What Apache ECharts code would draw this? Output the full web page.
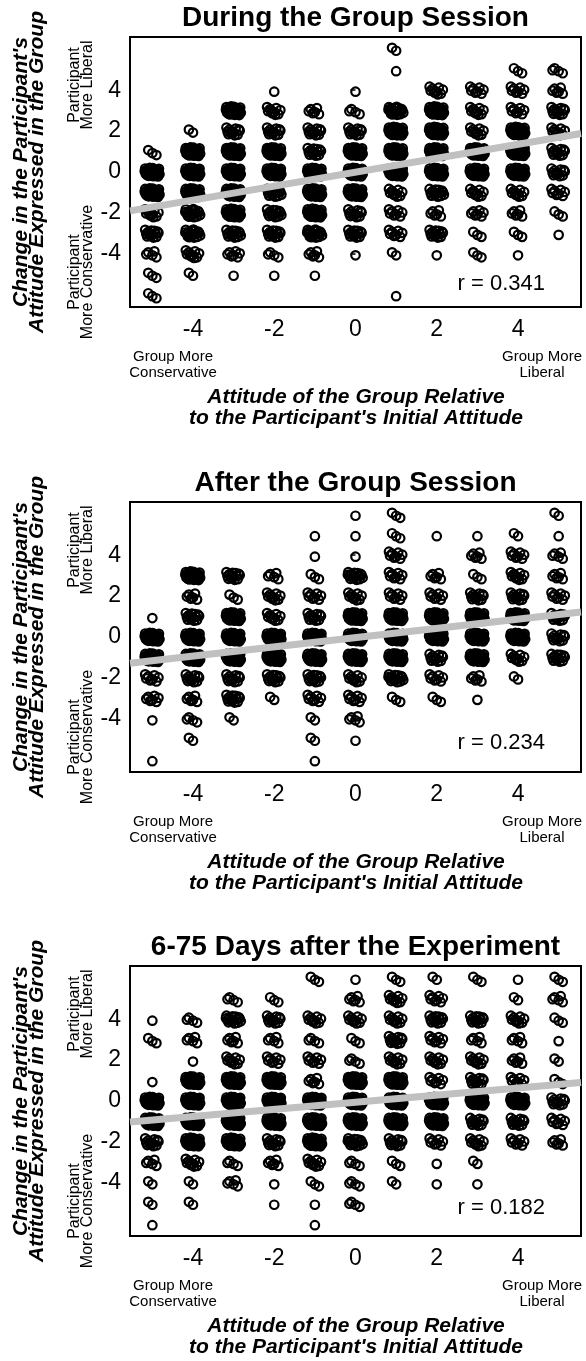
<!DOCTYPE html>
<html><head><meta charset="utf-8">
<script src="https://cdn.jsdelivr.net/npm/echarts@6/dist/echarts.min.js"></script>
<style>html,body{margin:0;padding:0;background:#fff}#c{width:586px;height:1361px}</style>
</head><body><div id="c"></div>
<script>
// ---- data ----
const xCategories = [-5,-4,-3,-2,-1,0,1,2,3,4,5];
const yLevels = [6,5,4,3,2,1,0,-1,-2,-3,-4,-5,-6];   // rows, top to bottom
const tickValues = [-4,-2,0,2,4];
const panelTitles = ['During the Group Session','After the Group Session','6-75 Days after the Experiment'];
const rLabels = ['r = 0.341','r = 0.234','r = 0.182'];

// number of participants at each (group attitude, change) cell; one row per x category, counts for y = 6 .. -6
const duringCounts = [
  [0,0,0,0,0,3,30,30,10,14,5,3,3],
  [0,0,0,0,2,30,30,30,18,18,10,2,0],
  [0,0,0,30,12,30,30,30,30,15,7,1,0],
  [0,0,1,10,12,30,30,15,15,14,4,1,0],
  [0,0,0,6,12,14,30,30,30,20,6,1,0],
  [0,0,1,4,12,30,30,30,12,14,1,0,0],
  [2,1,0,20,30,30,30,10,8,8,2,0,1],
  [0,0,10,30,30,30,30,15,6,14,1,0,0],
  [0,0,8,10,10,30,30,10,7,3,3,0,0],
  [0,3,8,8,30,30,30,10,6,3,1,0,0],
  [0,4,6,12,10,12,12,8,3,1,0,0,0]
];
const afterCounts = [
  [0,0,0,0,0,1,30,30,8,7,1,0,1],
  [0,0,0,30,6,14,30,30,12,6,4,2,0],
  [0,0,0,14,3,30,30,30,12,14,2,0,0],
  [0,0,0,5,10,10,30,30,14,2,0,0,0],
  [0,1,1,3,8,12,30,30,14,8,2,2,1],
  [1,1,1,16,10,30,30,30,10,8,5,1,0],
  [3,3,8,8,8,30,30,30,16,3,0,0,0],
  [0,1,0,6,8,30,30,12,8,3,0,0,0],
  [0,1,6,3,12,30,30,30,6,1,0,0,0],
  [0,2,8,10,12,30,30,10,2,0,0,0,0],
  [2,1,5,6,8,12,12,14,0,0,0,0,0]
];
const laterCounts = [
  [0,0,1,3,0,1,30,30,12,5,2,2,1],
  [0,0,4,5,1,30,30,30,30,10,2,2,0],
  [0,4,16,6,10,30,30,30,30,4,5,0,0],
  [0,3,12,5,8,30,30,30,12,6,1,1,0],
  [3,0,10,4,8,6,30,30,30,10,3,1,1],
  [1,6,10,3,4,30,30,30,16,4,4,4,0],
  [3,10,10,12,10,30,30,30,12,3,2,0,0],
  [2,8,14,8,10,8,30,30,8,1,1,0,0],
  [3,0,14,5,10,12,30,12,10,2,1,0,0],
  [1,2,10,5,6,8,30,12,8,0,0,0,0],
  [3,5,3,1,2,3,12,8,6,0,0,0,0]
];
// regression line end points [x, y]
const duringFit = [[-5.55,-1.9],[5.55,1.88]];
const afterFit  = [[-5.55,-1.28],[5.55,1.22]];
const laterFit  = [[-5.55,-1.03],[5.55,0.9]];

// ---- display-only jitter pattern (normalised offsets) ----
const JITTER = [[0,-0.33],[-0.5,0.33],[0.5,-0.78],[-0.75,-0.11],[0.25,0.56],[-0.25,-0.56],[0.75,0.11],[-0.88,0.78],[0.13,-0.93],[-0.38,-0.26],[0.63,0.41],[-0.63,-0.7],[0.38,-0.04],[-0.13,0.63],[0.88,-0.48],[-0.94,0.19],[0.06,0.85],[-0.44,-0.85],[0.56,-0.19],[-0.69,0.48],[0.31,-0.63],[-0.19,0.04],[0.81,0.7],[-0.81,-0.41],[0.19,0.26],[-0.31,0.93],[0.69,-0.98],[-0.56,-0.31],[0.44,0.36],[-0.06,-0.75],[0.94,-0.09],[-0.97,0.58],[0.03,-0.53],[-0.47,0.14],[0.53,0.8],[-0.72,-0.88],[0.28,-0.21],[-0.22,0.46],[0.78,-0.65],[-0.84,0.01]];
const JX = 0.2, JY = 0.22;

function buildPoints(counts){
  const pts = [];
  counts.forEach((col, ci) => {
    col.forEach((n, ri) => {
      for (let k = 0; k < n; k++) {
        const j = JITTER[k % JITTER.length];
        pts.push([xCategories[ci] + j[0]*JX, yLevels[ri] + j[1]*JY]);
      }
    });
  });
  return pts;
}

const FONT = "'Liberation Sans', Arial, Helvetica, sans-serif";
const OFF = [0, 465, 929];
const R_Y = [284, 742.5, 1208];
const allCounts = [duringCounts, afterCounts, laterCounts];
const allFits = [duringFit, afterFit, laterFit];

const grids = [], xAxes = [], yAxes = [], series = [], graphics = [];

function txt(x, y, text, font, extra){
  const o = {type:'text', x:x, y:y, silent:true, z:100,
    style:{text:text, font:font, fill:'#000', align:'center', textAlign:'center', verticalAlign:'middle', textVerticalAlign:'middle'}};
  if (extra) { if (extra.rotation !== undefined) o.rotation = extra.rotation; if (extra.style) Object.assign(o.style, extra.style); }
  return o;
}

OFF.forEach((o, i) => {
  grids.push({left:130, top:37+o, width:451, height:270, show:true, borderColor:'#000', borderWidth:2, backgroundColor:'rgba(0,0,0,0)'});
  xAxes.push({gridIndex:i, type:'value', min:-5.55, max:5.55,
    splitLine:{show:false}, axisLine:{show:false},
    axisTick:{show:true, length:5, lineStyle:{color:'#000', width:1.5}, customValues:tickValues},
    axisLabel:{customValues:tickValues, fontSize:23, color:'#000', margin:11, fontFamily:FONT}});
  yAxes.push({gridIndex:i, type:'value', min:-6.6, max:6.6,
    splitLine:{show:false}, axisLine:{show:false},
    axisTick:{show:true, length:5, lineStyle:{color:'#000', width:1.5}, customValues:tickValues},
    axisLabel:{customValues:tickValues, fontSize:23, color:'#000', margin:9, fontFamily:FONT}});
  series.push({type:'scatter', xAxisIndex:i, yAxisIndex:i, data:buildPoints(allCounts[i]),
    symbol:'circle', symbolSize:8.5, silent:true, progressive:0, large:false, animation:false, z:2,
    itemStyle:{color:'rgba(0,0,0,0)', borderColor:'#000', borderWidth:2.2, opacity:1},
    emphasis:{disabled:true}});
  series.push({type:'line', xAxisIndex:i, yAxisIndex:i, data:allFits[i], symbol:'none', silent:true, z:5,
    lineStyle:{color:'#c0c0c0', width:7}, animation:false});

  graphics.push(txt(355.5, 18+o, panelTitles[i], 'bold 28px '+FONT));
  graphics.push(txt(29, 172+o, "Change in the Participant's\nAttitude Expressed in the Group", 'italic bold 21px '+FONT, {rotation:Math.PI/2, style:{lineHeight:16}}));
  graphics.push(txt(81.5, 85+o, 'Participant\nMore Liberal', '16px '+FONT, {rotation:Math.PI/2, style:{lineHeight:13}}));
  graphics.push(txt(81.5, 272+o, 'Participant\nMore Conservative', '16px '+FONT, {rotation:Math.PI/2, style:{lineHeight:13}}));
  graphics.push(txt(173, 365+o, 'Group More\nConservative', '15px '+FONT, {style:{lineHeight:16}}));
  graphics.push(txt(542, 365+o, 'Group More\nLiberal', '15px '+FONT, {style:{lineHeight:16}}));
  graphics.push(txt(356, 407.5+o, "Attitude of the Group Relative\nto the Participant's Initial Attitude", 'italic bold 21px '+FONT, {style:{lineHeight:21}}));
  graphics.push(txt(545, R_Y[i], rLabels[i], '22px '+FONT, {style:{align:'right', textAlign:'right'}}));
});

const chart = echarts.init(document.getElementById('c'), null, {renderer:'canvas'});
chart.setOption({
  animation:false,
  backgroundColor:'#fff',
  grid:grids, xAxis:xAxes, yAxis:yAxes, series:series,
  graphic:{elements:graphics}
});
</script></body></html>
